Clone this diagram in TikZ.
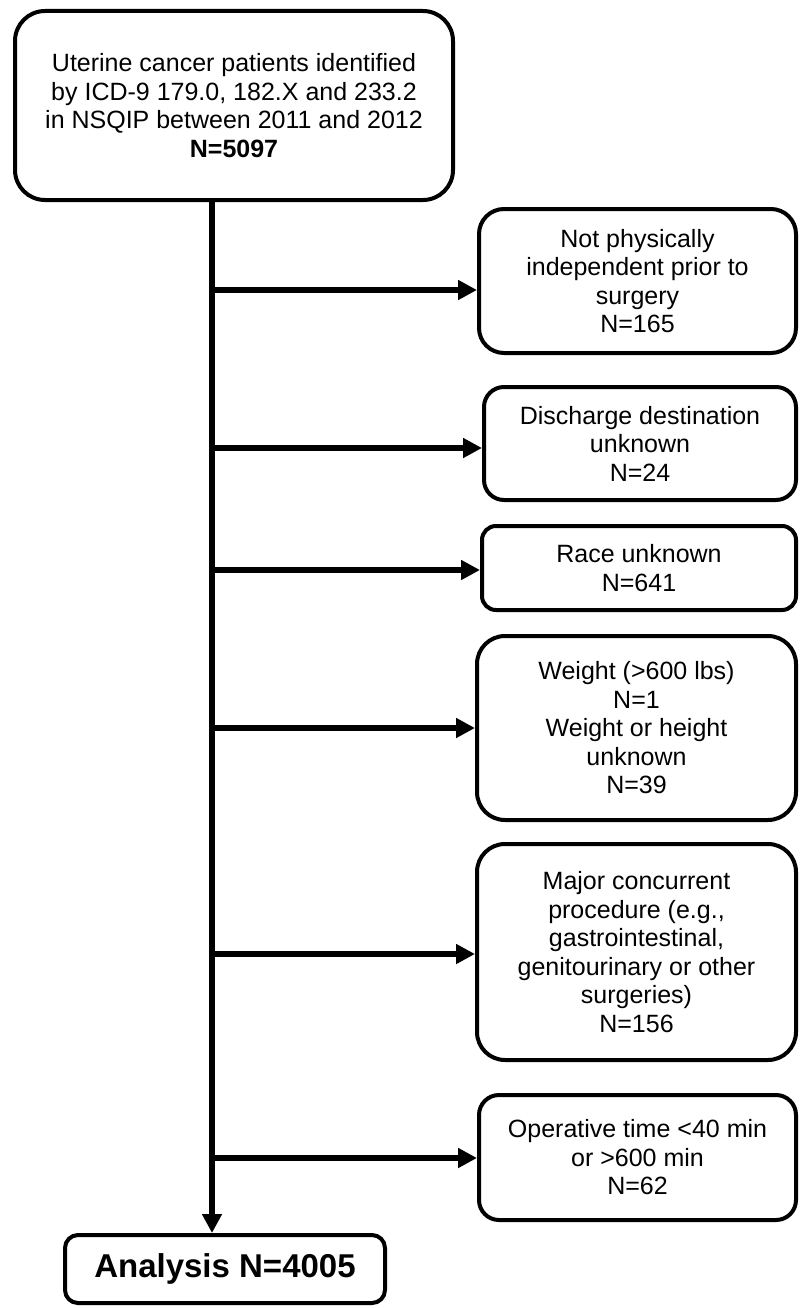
\documentclass[tikz,border=0pt]{standalone}
\usepackage{fontspec}
\setmainfont{Liberation Sans}
\usetikzlibrary{arrows.meta}
\begin{document}
\begin{tikzpicture}[x=1pt,y=-1pt,
  box/.style={draw=black,line width=4pt,align=center,inner sep=0pt,
    font=\fontsize{25}{28.5}\selectfont},
  arr/.style={line width=6pt,-{Triangle[length=19pt,width=19pt]}}]
\useasboundingbox (0,0) rectangle (800,1308);
\node[box,rounded corners=30pt,minimum width=438pt,minimum height=189pt] (top) at (234,105.5)
  {Uterine cancer patients identified\\by ICD-9 179.0, 182.X and 233.2\\in NSQIP between 2011 and 2012\\\textbf{N=5097}};
\node[box,rounded corners=25pt,minimum width=317pt,minimum height=144pt] (b1) at (637.5,281)
  {Not physically\\independent prior to\\surgery\\N=165};
\node[box,rounded corners=20pt,minimum width=312pt,minimum height=113pt] (b2) at (640,443.5)
  {Discharge destination\\unknown\\N=24};
\node[box,rounded corners=14pt,minimum width=314pt,minimum height=84pt] (b3) at (639,568)
  {Race unknown\\N=641};
\node[box,rounded corners=28pt,minimum width=319pt,minimum height=184pt] (b4) at (636.5,728)
  {Weight (>600 lbs)\\N=1\\Weight or height\\unknown\\N=39};
\node[box,rounded corners=28pt,minimum width=319pt,minimum height=216pt] (b5) at (636.5,952)
  {Major concurrent\\procedure (e.g.,\\gastrointestinal,\\genitourinary or other\\surgeries)\\N=156};
\node[box,rounded corners=20pt,minimum width=317pt,minimum height=125pt] (b6) at (637.5,1157.5)
  {Operative time <40 min\\or >600 min\\N=62};
\node[box,rounded corners=13pt,minimum width=320pt,minimum height=68pt,
  font=\fontsize{33}{36}\selectfont\bfseries] (bot) at (225,1269)
  {Analysis N=4005};
\coordinate (sx) at (212,0);
\draw[arr] (top.south -| sx) -- (bot.north -| sx);
\coordinate (j1) at (209,290);
\coordinate (j2) at (209,448);
\coordinate (j3) at (209,570);
\coordinate (j4) at (209,728);
\coordinate (j5) at (209,954);
\coordinate (j6) at (209,1158);
\draw[arr] (j1) -- (j1 -| b1.west);
\draw[arr] (j2) -- (j2 -| b2.west);
\draw[arr] (j3) -- (j3 -| b3.west);
\draw[arr] (j4) -- (j4 -| b4.west);
\draw[arr] (j5) -- (j5 -| b5.west);
\draw[arr] (j6) -- (j6 -| b6.west);
\end{tikzpicture}
\end{document}
